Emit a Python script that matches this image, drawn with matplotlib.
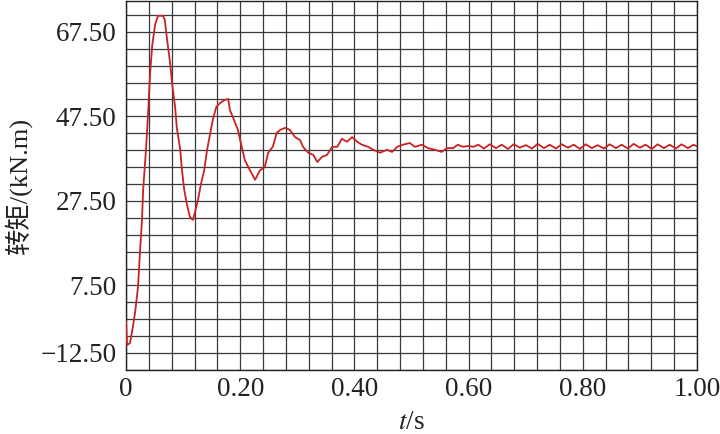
import matplotlib
matplotlib.use("Agg")
import matplotlib.pyplot as plt
import numpy as np
from matplotlib.transforms import ScaledTranslation

# ---- data ----
t_main = [0.000, 0.002, 0.007, 0.012, 0.016, 0.021, 0.025, 0.028, 0.030, 0.035,
          0.039, 0.042, 0.046, 0.051, 0.056, 0.065, 0.068, 0.072, 0.077, 0.081,
          0.086, 0.089, 0.095, 0.098, 0.102, 0.107, 0.112, 0.117, 0.121, 0.126,
          0.131, 0.137, 0.142, 0.147, 0.152, 0.158, 0.165, 0.173, 0.179, 0.182,
          0.187, 0.196, 0.200, 0.208, 0.217, 0.226, 0.235, 0.243, 0.249, 0.257,
          0.264, 0.270, 0.279, 0.287, 0.296, 0.305, 0.310, 0.319, 0.328, 0.335,
          0.343, 0.352, 0.361, 0.370, 0.378, 0.387, 0.396, 0.405, 0.413, 0.424,
          0.433, 0.445, 0.457, 0.466, 0.475, 0.485, 0.497, 0.506, 0.518, 0.529,
          0.541, 0.553, 0.562, 0.573, 0.581, 0.590, 0.599, 0.608, 0.617]
v_main = [-1.1, -6.6, -6.1, -2.3, 1.2, 7.1, 16.6, 23.0, 30.1, 39.6,
          49.0, 57.3, 64.4, 69.2, 71.3, 71.3, 70.3, 65.6, 60.4, 55.0,
          49.7, 44.8, 39.6, 34.8, 30.1, 26.5, 23.7, 23.0, 24.9, 27.7,
          31.3, 34.8, 39.6, 43.1, 46.7, 49.7, 50.7, 51.4, 51.6, 49.0,
          47.4, 44.3, 41.9, 37.2, 34.8, 32.5, 34.8, 35.5, 38.9, 40.3,
          43.6, 44.3, 44.8, 44.3, 42.6, 41.9, 40.3, 38.9, 38.4, 36.7,
          37.9, 38.4, 40.3, 40.3, 42.2, 41.5, 42.6, 41.5, 40.8, 40.3,
          39.6, 38.9, 39.6, 39.1, 40.3, 40.8, 41.2, 40.3, 40.8, 40.0,
          39.6, 39.1, 40.0, 40.0, 40.8, 40.3, 40.5, 40.3, 40.8]
t_tail = [0.627, 0.637, 0.648, 0.658, 0.669, 0.679, 0.690, 0.700, 0.711, 0.721,
          0.732, 0.742, 0.753, 0.763, 0.774, 0.784, 0.795, 0.805, 0.816, 0.826,
          0.837, 0.847, 0.858, 0.868, 0.879, 0.889, 0.900, 0.910, 0.921, 0.931,
          0.942, 0.952, 0.963, 0.973, 0.984, 0.994, 1.000]
v_tail = [39.9, 40.9, 40.0, 40.8, 39.8, 40.9, 40.1, 40.7, 39.9, 41.0,
          40.0, 40.8, 39.9, 40.9, 40.1, 40.8, 39.8, 40.9, 40.0, 40.7,
          39.9, 40.9, 40.0, 40.8, 39.9, 41.0, 40.1, 40.8, 39.8, 40.9,
          40.0, 40.8, 39.9, 40.9, 40.0, 40.8, 40.4]

x_ticks = [0.0, 0.2, 0.4, 0.6, 0.8, 1.0]
x_ticklabels = ["0", "0.20", "0.40", "0.60", "0.80", "1.00"]
y_ticks = [67.5, 47.5, 27.5, 7.5, -12.5]
y_ticklabels = ["67.50", "47.50", "27.50", "7.50", "\u221212.50"]

plt.rcParams["font.family"] = ["Liberation Serif", "Noto Sans CJK SC"]
plt.rcParams["mathtext.fontset"] = "stix"

fig = plt.figure(figsize=(7.2, 4.34), dpi=100)
ax = fig.add_axes([126 / 720, 1 - 370 / 434, (697 - 126) / 720, (370 - 1) / 434])

t_all = t_main + t_tail
v_all = v_main + v_tail
ax.plot(t_all, v_all, color="#c82222", lw=1.3, zorder=3)

ax.set_xlim(0, 1.0)
ax.set_ylim(-12.5, 74.8)

ax.set_xticks(x_ticks)
ax.set_xticklabels(x_ticklabels)
ax.set_xticks(np.arange(0, 1.0001, 0.04), minor=True)
ax.set_yticks(y_ticks)
ax.set_yticklabels(y_ticklabels)
ax.set_yticks(np.arange(-12.5, 74.8, 4), minor=True)

ax.grid(which="both", color="#3a3a3a", lw=0.9)
ax.set_axisbelow(True)
for s in ax.spines.values():
    s.set_color("#222222")
    s.set_linewidth(1.0)

ax.tick_params(which="both", length=0)
ax.tick_params(axis="y", labelsize=19.5, pad=7, labelcolor="#222222")
ax.tick_params(axis="x", labelsize=19.5, pad=5, labelcolor="#222222")

ax.set_xlabel("$t$/s", fontsize=19.5, labelpad=6, color="#222222")
ax.set_ylabel("转矩/(kN.m)", fontsize=19, labelpad=6, color="#222222")

# the bottom label in the reference sits one grid line above the axis
for lab in ax.get_yticklabels():
    if lab.get_text() == "\u221212.50":
        lab.set_transform(lab.get_transform() + ScaledTranslation(0, 17 / 100, fig.dpi_scale_trans))

fig.savefig("out.png", dpi=100, facecolor="white")
